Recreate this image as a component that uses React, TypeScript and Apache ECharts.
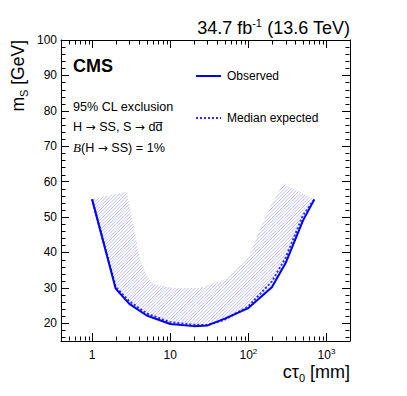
import React, { useEffect, useRef } from 'react';
import * as echarts from 'echarts';

// Observed 95% CL exclusion contour (ctau in mm, m_S in GeV)
const ctauObs = [1, 2, 3, 5, 10, 20, 30, 50, 100, 200, 300, 500, 700];
const massObs = [55, 29.8, 25.5, 22.2, 19.8, 19.2, 19.4, 21.3, 24.3, 30.2, 37, 49, 55];
// Median expected contour
const ctauExp = [1, 2, 3, 5, 10, 20, 30, 50, 100, 200, 300, 500, 700];
const massExp = [55, 30.3, 26.2, 22.8, 20.3, 19.6, 19.5, 21, 24.8, 31.8, 38.5, 50.5, 55];
// Upper edge of the hatched (excluded-side) band, from right to left
const bandTopCtau = [700, 279, 189, 128, 100, 53, 24, 11, 6.1, 5, 4.1, 2.78, 1];
const bandTopMass = [55, 59.5, 52.9, 44.4, 38.5, 32.5, 30, 30, 31, 33.5, 38, 57.2, 55];
// Axis ranges
const xMin = 0.4;
const xMax = 2000;
const yMin = 15;
const yMax = 100;
const xTickLabels = ['1', '10', '10^2', '10^3'];

const FF = '"Liberation Sans", Arial, Helvetica, "DejaVu Sans", sans-serif';
const AR = '"DejaVu Sans", sans-serif';

export default function App() {
  const ref = useRef<HTMLDivElement>(null);

  useEffect(() => {
    document.body.style.margin = '0';
    const el = ref.current as HTMLDivElement;
    const chart = echarts.init(el, null, { renderer: 'svg' });

    // hatch pattern tile
    const cv = document.createElement('canvas');
    cv.width = 10;
    cv.height = 10;
    const ctx = cv.getContext('2d') as CanvasRenderingContext2D;
    ctx.strokeStyle = 'rgba(105,105,230,0.62)';
    ctx.lineWidth = 0.7;
    for (let c = -10; c <= 30; c += 10 / 3) {
      ctx.beginPath();
      ctx.moveTo(c, 0);
      ctx.lineTo(c - 10, 10);
      ctx.stroke();
    }
    const hatch: any = { image: cv, repeat: 'repeat', imageWidth: 10, imageHeight: 10 };

    const obsData = ctauObs.map((c, i) => [c, massObs[i]]);
    const expData = ctauExp.map((c, i) => [c, massExp[i]]);
    const bandPoly = obsData.concat(bandTopCtau.map((c, i) => [c, bandTopMass[i]]));

    const xMinor: number[] = [];
    [0.1, 1, 10, 100, 1000].forEach((d) => {
      for (let m = 2; m <= 9; m++) {
        const v = m * d;
        if (v > xMin && v < xMax) xMinor.push(v);
      }
    });
    const yMinor: number[] = [];
    for (let v = 16; v < yMax; v += 2) if (v % 10 !== 0) yMinor.push(v);

    const xLabel = (v: number) => {
      const p = Math.round(Math.log10(v));
      const s = xTickLabels[p];
      if (s === undefined) return '';
      if (s.indexOf('^') >= 0) {
        const [b, e] = s.split('^');
        return '{b|' + b + '}{p|' + e + '}';
      }
      return '{b|' + s + '}';
    };

    const tickLine = (x1: number, y1: number, x2: number, y2: number) => ({
      type: 'line',
      shape: { x1, y1, x2, y2 },
      style: { stroke: '#000', lineWidth: 1 },
      silent: true,
    });

    const axisCommon = {
      axisLine: { show: true, onZero: false, lineStyle: { color: '#000', width: 1 } },
      axisTick: { show: true, inside: true, length: 8, lineStyle: { color: '#000', width: 1 } },
      splitLine: { show: false },
    };

    const txt = { fontFamily: FF, fontSize: 12.6, fill: '#000', lineHeight: 16 };
    const arr = { fontFamily: AR, fontSize: 12, fill: '#000', lineHeight: 16 };

    const option: any = {
      animation: false,
      backgroundColor: '#fff',
      grid: { left: 61, right: 57, top: 40, bottom: 55 },
      xAxis: [
        {
          type: 'log',
          logBase: 10,
          min: xMin,
          max: xMax,
          position: 'bottom',
          ...axisCommon,
          axisLabel: {
            show: true,
            showMinLabel: false,
            showMaxLabel: false,
            margin: 6,
            color: '#000',
            formatter: xLabel,
            rich: {
              b: { fontFamily: FF, fontSize: 12, color: '#000', lineHeight: 16 },
              p: { fontFamily: FF, fontSize: 8, color: '#000', lineHeight: 10, verticalAlign: 'top' },
            },
          },
        },
        {
          type: 'log',
          logBase: 10,
          min: xMin,
          max: xMax,
          position: 'top',
          ...axisCommon,
          axisLabel: { show: false },
        },
      ],
      yAxis: [
        {
          type: 'value',
          min: yMin,
          max: yMax,
          splitNumber: 8,
          position: 'left',
          ...axisCommon,
          axisLabel: {
            show: true,
            showMinLabel: false,
            margin: 4,
            color: '#000',
            fontFamily: FF,
            fontSize: 12,
          },
        },
        {
          type: 'value',
          min: yMin,
          max: yMax,
          splitNumber: 8,
          position: 'right',
          ...axisCommon,
          axisLabel: { show: false },
        },
      ],
      series: [
        {
          type: 'custom',
          xAxisIndex: 0,
          yAxisIndex: 0,
          silent: true,
          data: [[1, 50]],
          z: 1,
          renderItem: (params: any, api: any) => {
            const pts = bandPoly.map((p) => api.coord(p));
            return {
              type: 'polygon',
              shape: { points: pts },
              style: { fill: hatch, stroke: null },
            };
          },
        },
        {
          type: 'line',
          name: 'Median expected',
          xAxisIndex: 0,
          yAxisIndex: 0,
          data: expData,
          showSymbol: false,
          symbol: 'none',
          z: 3,
          lineStyle: { color: '#2b2bff', width: 2, type: [2, 2] },
        },
        {
          type: 'line',
          name: 'Observed',
          xAxisIndex: 0,
          yAxisIndex: 0,
          data: obsData,
          showSymbol: false,
          symbol: 'none',
          z: 4,
          lineStyle: { color: '#0000ff', width: 2 },
        },
        {
          type: 'custom',
          xAxisIndex: 0,
          yAxisIndex: 0,
          silent: true,
          clip: false,
          data: [[1, 50]],
          z: 5,
          renderItem: (params: any, api: any) => {
            const cs = params.coordSys;
            const left = Math.round(cs.x) + 0.5;
            const right = Math.round(cs.x + cs.width) - 0.5;
            const top = Math.round(cs.y) + 0.5;
            const bottom = Math.round(cs.y + cs.height) - 0.5;
            const children: any[] = [];
            xMinor.forEach((v) => {
              const px = Math.round(api.coord([v, 50])[0]) + 0.5;
              children.push(tickLine(px, bottom, px, bottom - 4));
              children.push(tickLine(px, top, px, top + 4));
            });
            yMinor.forEach((v) => {
              const py = Math.round(api.coord([1, v])[1]) + 0.5;
              children.push(tickLine(left, py, left + 4, py));
              children.push(tickLine(right, py, right - 4, py));
            });
            return { type: 'group', children };
          },
        },
      ],
      graphic: [
        {
          type: 'text',
          x: 350,
          y: 28,
          style: {
            text: '{a|34.7 fb}{s|-1}{a| (13.6 TeV)}',
            align: 'right',
            verticalAlign: 'middle',
            rich: {
              a: { fontFamily: FF, fontSize: 18, fill: '#000', lineHeight: 22 },
              s: { fontFamily: FF, fontSize: 11, fill: '#000', lineHeight: 12, verticalAlign: 'top' },
            },
          },
        },
        {
          type: 'text',
          x: 350,
          y: 372,
          style: {
            text: '{a|c\u03c4}{s|0}{a| [mm]}',
            align: 'right',
            verticalAlign: 'middle',
            rich: {
              a: { fontFamily: FF, fontSize: 18, fill: '#000', lineHeight: 22 },
              s: { fontFamily: FF, fontSize: 11, fill: '#000', lineHeight: 12, verticalAlign: 'bottom' },
            },
          },
        },
        {
          type: 'text',
          x: 18,
          y: 40,
          rotation: Math.PI / 2,
          style: {
            text: '{a|m}{s|S}{a| [GeV]}',
            align: 'right',
            verticalAlign: 'middle',
            rich: {
              a: { fontFamily: FF, fontSize: 17.5, fill: '#000', lineHeight: 22 },
              s: { fontFamily: FF, fontSize: 11, fill: '#000', lineHeight: 12, verticalAlign: 'bottom' },
            },
          },
        },
        {
          type: 'text',
          x: 73,
          y: 65.5,
          style: {
            text: 'CMS',
            fontFamily: FF,
            fontSize: 18,
            fontWeight: 'bold',
            fill: '#000',
            align: 'left',
            verticalAlign: 'middle',
          },
        },
        {
          type: 'text',
          x: 73,
          y: 106.7,
          style: {
            text: '95% CL exclusion',
            fontFamily: FF,
            fontSize: 12.6,
            fill: '#000',
            align: 'left',
            verticalAlign: 'middle',
          },
        },
        {
          type: 'text',
          x: 73,
          y: 127,
          style: {
            text: '{a|H }{r|\u2192}{a| SS, S }{r|\u2192}{a| dd\u0305}',
            align: 'left',
            verticalAlign: 'middle',
            rich: { a: txt, r: arr },
          },
        },
        {
          type: 'text',
          x: 73,
          y: 147.5,
          style: {
            text: '{i|B}{a|(H }{r|\u2192}{a| SS) = 1%}',
            align: 'left',
            verticalAlign: 'middle',
            rich: {
              i: { fontFamily: '"Liberation Serif", "DejaVu Serif", serif', fontStyle: 'italic', fontSize: 13, fill: '#000', lineHeight: 16 },
              a: txt,
              r: arr,
            },
          },
        },
        {
          type: 'line',
          shape: { x1: 196, y1: 76, x2: 221, y2: 76 },
          style: { stroke: '#0000ff', lineWidth: 2 },
        },
        {
          type: 'text',
          x: 227,
          y: 76,
          style: {
            text: 'Observed',
            fontFamily: FF,
            fontSize: 12,
            fill: '#000',
            align: 'left',
            verticalAlign: 'middle',
          },
        },
        {
          type: 'line',
          shape: { x1: 196, y1: 118, x2: 221, y2: 118 },
          style: { stroke: '#2b2bff', lineWidth: 2, lineDash: [2, 2] },
        },
        {
          type: 'text',
          x: 227,
          y: 118,
          style: {
            text: 'Median expected',
            fontFamily: FF,
            fontSize: 12,
            fill: '#000',
            align: 'left',
            verticalAlign: 'middle',
          },
        },
      ],
    };

    chart.setOption(option);
    return () => {
      chart.dispose();
    };
  }, []);

  return (
    <div
      ref={ref}
      style={{ position: 'absolute', left: 0, top: 0, width: 407, height: 396 }}
    />
  );
}
